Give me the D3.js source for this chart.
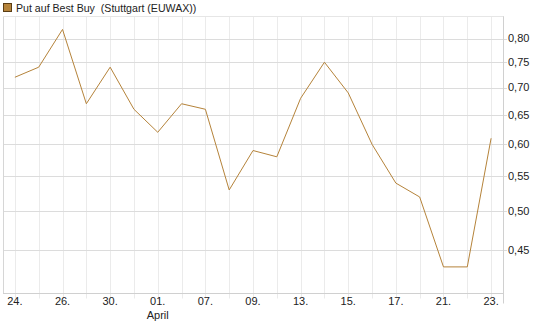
<!DOCTYPE html>
<html><head><meta charset="utf-8">
<script src="https://cdn.jsdelivr.net/npm/d3@7"></script>
<style>body{margin:0;background:#fff}svg{display:block;font-family:"Liberation Sans",Arial,sans-serif}</style>
</head><body><svg id="c" width="545" height="327"></svg>
<script>
const title = "Put auf Best Buy  (Stuttgart (EUWAX))";
const dates = ["24.","25.","26.","27.","30.","31.","01.","03.","07.","08.","09.","10.","13.","14.","15.","16.","17.","18.","21.","22.","23."];
const values = [0.72,0.74,0.82,0.67,0.74,0.66,0.62,0.67,0.66,0.53,0.59,0.58,0.68,0.75,0.69,0.60,0.54,0.52,0.43,0.43,0.61];
const yTicks = [0.45,0.50,0.55,0.60,0.65,0.70,0.75,0.80];
const monthLabel = {"01.":"April"};

const svg = d3.select("#c");
const L=3,R=503,T=16.2,B=293.5;
const x = d3.scalePoint().domain(d3.range(dates.length)).range([L,R]).padding(0.5);
const y = d3.scaleLog().domain([0.40,0.85]).range([B,T]);

svg.append("g").selectAll("line").data(d3.range(dates.length)).join("line")
  .attr("x1",i=>Math.round(x(i))+0.5).attr("x2",i=>Math.round(x(i))+0.5)
  .attr("y1",T).attr("y2",B+5).attr("stroke","#ebebeb").attr("stroke-width",1);
svg.append("g").selectAll("line").data(yTicks).join("line")
  .attr("x1",L).attr("x2",R+4).attr("y1",d=>Math.round(y(d))+0.5).attr("y2",d=>Math.round(y(d))+0.5)
  .attr("stroke","#dcdcdc").attr("stroke-width",1);
svg.append("line").attr("x1",L+0.5).attr("x2",L+0.5).attr("y1",T).attr("y2",B).attr("stroke","#d6d6d6");
svg.append("line").attr("x1",L).attr("x2",R).attr("y1",Math.round(T)+0.5).attr("y2",Math.round(T)+0.5).attr("stroke","#e6e6e6");
svg.append("line").attr("x1",L).attr("x2",R).attr("y1",Math.round(B)-0.5).attr("y2",Math.round(B)-0.5).attr("stroke","#d0d0d0");
svg.append("line").attr("x1",R+0.5).attr("x2",R+0.5).attr("y1",T).attr("y2",B+10).attr("stroke","#d0d0d0");

svg.append("g").selectAll("text").data(yTicks).join("text")
  .attr("x",R+5).attr("y",d=>y(d)).attr("dy","0.35em")
  .attr("font-size",11).attr("fill","#222")
  .text(d=>d3.format(".2f")(d).replace(".",","));
const xl = svg.append("g");
d3.range(0,dates.length,2).forEach(i=>{
  xl.append("text").attr("x",x(i)).attr("y",305).attr("text-anchor","middle")
    .attr("font-size",11).attr("fill","#222").text(dates[i]);
  if(monthLabel[dates[i]]) xl.append("text").attr("x",x(i)).attr("y",319).attr("text-anchor","middle")
    .attr("font-size",11).attr("fill","#222").text(monthLabel[dates[i]]);
});

svg.append("path").datum(values)
  .attr("d",d3.line().x((d,i)=>x(i)).y(d=>y(d)))
  .attr("fill","none").attr("stroke","#b5833a").attr("stroke-width",1);

svg.append("rect").attr("x",3.5).attr("y",3.5).attr("width",8).attr("height",8)
  .attr("fill","#b5833a").attr("stroke","#5a3d14").attr("stroke-width",1);
svg.append("text").attr("x",16).attr("y",12).attr("font-size",10.6).attr("fill","#222").text(title).style("white-space","pre");
</script></body></html>
